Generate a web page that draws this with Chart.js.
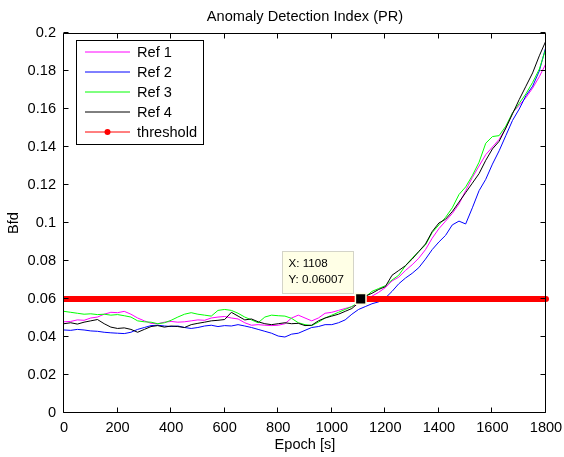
<!DOCTYPE html>
<html>
<head>
<meta charset="utf-8">
<script src="https://cdn.jsdelivr.net/npm/chart.js@4"></script>
<style>
html, body { margin: 0; padding: 0; background: #fff; }
</style>
</head>
<body>
<canvas id="myChart" width="564" height="457"></canvas>
<script>
// epoch axis of every series, in seconds
var epochs = [0, 25, 50, 75, 100, 125, 150, 175, 200, 225, 250, 275, 300, 325, 350, 375, 400, 425, 450, 475,
    500, 525, 550, 575, 600, 625, 650, 675, 700, 725, 750, 775, 800, 825, 850, 875, 900, 925, 950, 975,
    1000, 1025, 1050, 1075, 1100, 1125, 1150, 1175, 1200, 1225, 1250, 1275, 1300, 1325, 1350, 1375, 1400, 1425, 1450, 1475,
    1500, 1525, 1550, 1575, 1600, 1625, 1650, 1675, 1700, 1725, 1750, 1775, 1800];

var ref1 = [0.0480, 0.0482, 0.0490, 0.0488, 0.0500, 0.0505, 0.0520, 0.0530, 0.0528, 0.0535, 0.0520, 0.0500, 0.0485, 0.0472, 0.0470, 0.0478, 0.0482, 0.0478, 0.0480, 0.0485,
    0.0490, 0.0488, 0.0500, 0.0505, 0.0508, 0.0500, 0.0495, 0.0475, 0.0462, 0.0465, 0.0462, 0.0460, 0.0462, 0.0470, 0.0500, 0.0515, 0.0500, 0.0485, 0.0500, 0.0525,
    0.0530, 0.0540, 0.0550, 0.0560, 0.0575, 0.0595, 0.0615, 0.0635, 0.0660, 0.0695, 0.0715, 0.0750, 0.0780, 0.0815, 0.0860, 0.0920, 0.0970, 0.1010, 0.1050, 0.1100,
    0.1170, 0.1240, 0.1300, 0.1360, 0.1400, 0.1440, 0.1500, 0.1580, 0.1620, 0.1660, 0.1710, 0.1770, 0.1840];

var ref2 = [0.0437, 0.0435, 0.0440, 0.0437, 0.0432, 0.0430, 0.0425, 0.0422, 0.0420, 0.0418, 0.0425, 0.0440, 0.0450, 0.0460, 0.0462, 0.0458, 0.0455, 0.0458, 0.0450, 0.0445,
    0.0450, 0.0458, 0.0462, 0.0455, 0.0460, 0.0458, 0.0465, 0.0458, 0.0450, 0.0440, 0.0430, 0.0420, 0.0405, 0.0400, 0.0415, 0.0420, 0.0435, 0.0450, 0.0455, 0.0465,
    0.0465, 0.0475, 0.0490, 0.0520, 0.0545, 0.0560, 0.0575, 0.0585, 0.0605, 0.0640, 0.0680, 0.0710, 0.0735, 0.0765, 0.0810, 0.0860, 0.0900, 0.0935, 0.0990, 0.1010,
    0.0995, 0.1080, 0.1170, 0.1230, 0.1310, 0.1380, 0.1460, 0.1540, 0.1600, 0.1670, 0.1720, 0.1800, 0.1930];

var ref3 = [0.0535, 0.0530, 0.0525, 0.0520, 0.0522, 0.0518, 0.0520, 0.0515, 0.0518, 0.0512, 0.0505, 0.0485, 0.0480, 0.0478, 0.0470, 0.0475, 0.0488, 0.0505, 0.0520, 0.0528,
    0.0520, 0.0515, 0.0510, 0.0540, 0.0545, 0.0540, 0.0525, 0.0505, 0.0490, 0.0475, 0.0505, 0.0515, 0.0512, 0.0510, 0.0498, 0.0475, 0.0465, 0.0460, 0.0478, 0.0500,
    0.0515, 0.0530, 0.0545, 0.0560, 0.0585, 0.0610, 0.0640, 0.0655, 0.0670, 0.0700, 0.0725, 0.0775, 0.0815, 0.0850, 0.0885, 0.0950, 0.0990, 0.1030, 0.1080, 0.1150,
    0.1190, 0.1250, 0.1320, 0.1420, 0.1455, 0.1460, 0.1510, 0.1580, 0.1630, 0.1680, 0.1740, 0.1810, 0.1920];

var ref4 = [0.0470, 0.0475, 0.0468, 0.0478, 0.0485, 0.0492, 0.0470, 0.0452, 0.0445, 0.0448, 0.0440, 0.0425, 0.0440, 0.0455, 0.0460, 0.0452, 0.0458, 0.0455, 0.0450, 0.0465,
    0.0472, 0.0478, 0.0485, 0.0488, 0.0492, 0.0530, 0.0510, 0.0490, 0.0495, 0.0480, 0.0470, 0.0465, 0.0470, 0.0475, 0.0470, 0.0472, 0.0460, 0.0462, 0.0485, 0.0500,
    0.0510, 0.0520, 0.0535, 0.0550, 0.0580, 0.0615, 0.0630, 0.0650, 0.0665, 0.0725, 0.0750, 0.0775, 0.0810, 0.0850, 0.0890, 0.0955, 0.1000, 0.1020, 0.1060, 0.1110,
    0.1160, 0.1210, 0.1260, 0.1330, 0.1390, 0.1430, 0.1500, 0.1575, 0.1650, 0.1720, 0.1790, 0.1880, 0.1960];

var thresholdX = [0, 1800];
var thresholdY = [0.06, 0.06];

var tipX = 1108;
var tipY = 0.06007;

var xTicks = [0, 200, 400, 600, 800, 1000, 1200, 1400, 1600, 1800];
var yTicks = [0, 0.02, 0.04, 0.06, 0.08, 0.1, 0.12, 0.14, 0.16, 0.18, 0.2];
var yLabels = ['0', '0.02', '0.04', '0.06', '0.08', '0.1', '0.12', '0.14', '0.16', '0.18', '0.2'];

var seriesNames = ['Ref 1', 'Ref 2', 'Ref 3', 'Ref 4', 'threshold'];
var seriesColors = ['#ff00ff', '#0000ff', '#00ff00', '#000000', '#ff0000'];

var FONT = 'Liberation Sans, Arial, Helvetica, sans-serif';

function toPoints(xs, ys) {
    return xs.map(function (x, i) { return { x: x, y: ys[i] }; });
}

// box around the axes with inward ticks, like MATLAB
var boxPlugin = {
    id: 'box',
    afterDatasetsDraw: function (chart) {
        var ctx = chart.ctx;
        var a = chart.chartArea;
        var sx = chart.scales.x, sy = chart.scales.y;
        var L = Math.round(a.left) - 0.5, R = Math.round(a.right) - 0.5;
        var T = Math.round(a.top) + 0.5, B = Math.round(a.bottom) - 0.5;
        ctx.save();
        ctx.strokeStyle = '#000';
        ctx.lineWidth = 1;
        ctx.beginPath();
        ctx.rect(L, T, R - L, B - T);
        xTicks.forEach(function (v) {
            var px = Math.round(sx.getPixelForValue(v)) - 0.5;
            ctx.moveTo(px, B); ctx.lineTo(px, B - 5);
            ctx.moveTo(px, T); ctx.lineTo(px, T + 5);
        });
        yTicks.forEach(function (v) {
            var py = Math.round(sy.getPixelForValue(v)) - 0.5;
            ctx.moveTo(L, py); ctx.lineTo(L + 5, py);
            ctx.moveTo(R, py); ctx.lineTo(R - 5, py);
        });
        ctx.stroke();
        ctx.restore();
    }
};

// legend box and data tip
var overlayPlugin = {
    id: 'overlay',
    afterDraw: function (chart) {
        var ctx = chart.ctx;
        var sx = chart.scales.x, sy = chart.scales.y;
        ctx.save();

        // legend
        ctx.fillStyle = '#fff';
        ctx.fillRect(76.5, 40.5, 127, 104);
        ctx.strokeStyle = '#000';
        ctx.lineWidth = 1;
        ctx.strokeRect(76.5, 40.5, 127, 104);
        ctx.font = '14.6px ' + FONT;
        ctx.textBaseline = 'middle';
        ctx.textAlign = 'left';
        seriesNames.forEach(function (name, i) {
            var y = 52 + i * 20;
            ctx.strokeStyle = seriesColors[i];
            ctx.lineWidth = 1;
            ctx.beginPath();
            ctx.moveTo(85, y);
            ctx.lineTo(130, y);
            ctx.stroke();
            if (name === 'threshold') {
                ctx.fillStyle = '#ff0000';
                ctx.beginPath();
                ctx.arc(107.5, y, 3, 0, Math.PI * 2);
                ctx.fill();
            }
            ctx.fillStyle = '#000';
            ctx.fillText(name, 137, y + 0.5);
        });

        // data tip
        var mx = sx.getPixelForValue(tipX);
        var my = sy.getPixelForValue(tipY);
        var bx = Math.round(mx - 79) + 0.5, by = Math.round(my - 48) + 0.5;
        ctx.fillStyle = '#ffffe6';
        ctx.fillRect(bx, by, 71, 42);
        ctx.strokeStyle = '#d4d4c8';
        ctx.strokeRect(bx, by, 71, 42);
        ctx.fillStyle = '#000';
        ctx.font = '11.6px ' + FONT;
        ctx.fillText('X: ' + tipX, bx + 6, by + 12);
        ctx.fillText('Y: ' + tipY, bx + 6, by + 28);
        ctx.restore();
    }
};

var ctx = document.getElementById('myChart').getContext('2d');

var lineStyle = { borderWidth: 1, pointRadius: 0, tension: 0, fill: false };

var myChart = new Chart(ctx, {
    type: 'line',
    data: {
        datasets: [
            Object.assign({ label: seriesNames[0], data: toPoints(epochs, ref1), borderColor: seriesColors[0], order: 5 }, lineStyle),
            Object.assign({ label: seriesNames[1], data: toPoints(epochs, ref2), borderColor: seriesColors[1], order: 4 }, lineStyle),
            Object.assign({ label: seriesNames[2], data: toPoints(epochs, ref3), borderColor: seriesColors[2], order: 3 }, lineStyle),
            Object.assign({ label: seriesNames[3], data: toPoints(epochs, ref4), borderColor: seriesColors[3], order: 2 }, lineStyle),
            {
                label: seriesNames[4],
                data: toPoints(thresholdX, thresholdY),
                borderColor: seriesColors[4],
                borderWidth: 6,
                borderCapStyle: 'round',
                pointRadius: 0,
                order: 1,
                clip: { left: 1, right: 4, top: 6, bottom: 6 }
            },
            {
                label: 'tip',
                data: [{ x: tipX, y: tipY }],
                showLine: false,
                pointStyle: 'rect',
                pointRadius: 7.5,
                pointBackgroundColor: '#000',
                pointBorderColor: '#ffffe0',
                pointBorderWidth: 1.5,
                order: 0
            }
        ]
    },
    options: {
        responsive: false,
        animation: false,
        events: [],
        layout: { padding: { top: 0, right: 18, bottom: 0, left: 0 } },
        scales: {
            x: {
                type: 'linear',
                min: 0,
                max: 1800,
                grid: { display: false, drawTicks: false },
                border: { display: false },
                afterBuildTicks: function (scale) {
                    scale.ticks = xTicks.map(function (v) { return { value: v }; });
                },
                afterFit: function (scale) {
                    scale.height = 44;
                    scale.paddingLeft = 0;
                    scale.paddingRight = 0;
                },
                ticks: {
                    color: '#000',
                    font: { family: FONT, size: 14.6 },
                    padding: 6,
                    maxRotation: 0,
                    callback: function (v) { return String(v); }
                },
                title: {
                    display: true,
                    text: 'Epoch [s]',
                    color: '#000',
                    font: { family: FONT, size: 14.6 },
                    padding: { top: 0, bottom: 3 }
                }
            },
            y: {
                type: 'linear',
                min: 0,
                max: 0.2,
                grid: { display: false, drawTicks: false },
                border: { display: false },
                afterBuildTicks: function (scale) {
                    scale.ticks = yTicks.map(function (v) { return { value: v }; });
                },
                afterFit: function (scale) {
                    scale.width = 64;
                    scale.paddingTop = 0;
                    scale.paddingBottom = 0;
                },
                ticks: {
                    color: '#000',
                    font: { family: FONT, size: 14.6 },
                    padding: 8,
                    callback: function (v, i) { return yLabels[i]; }
                },
                title: {
                    display: true,
                    text: 'Bfd',
                    color: '#000',
                    font: { family: FONT, size: 14.6 },
                    padding: { top: 5, bottom: 0 }
                }
            }
        },
        plugins: {
            legend: { display: false },
            tooltip: { enabled: false },
            title: {
                display: true,
                text: 'Anomaly Detection Index (PR)',
                fullSize: false,
                color: '#000',
                font: { family: FONT, size: 14.6, weight: 'normal' },
                padding: { top: 8.5, bottom: 7 }
            }
        }
    },
    plugins: [boxPlugin, overlayPlugin]
});
</script>
</body>
</html>
